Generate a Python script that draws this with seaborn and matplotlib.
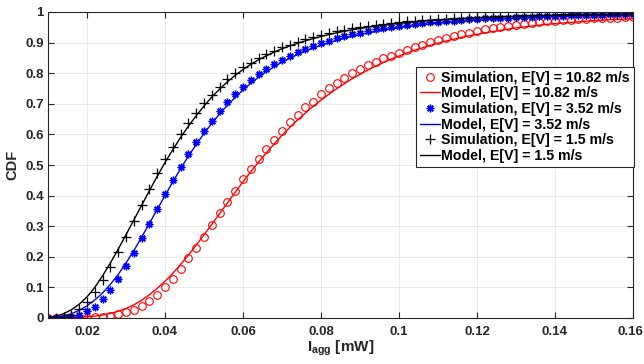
import numpy as np
import pandas as pd
import matplotlib
matplotlib.use("Agg")
import matplotlib.pyplot as plt
import matplotlib.transforms as mtransforms
import seaborn as sns

# ---------------- data ----------------
x_vals = [round(0.010 + 0.002 * i, 3) for i in range(76)]

sim_red = [0.000, 0.000, 0.000, 0.000, 0.000, 0.001, 0.002, 0.004, 0.007, 0.013,
           0.019, 0.026, 0.039, 0.057, 0.075, 0.100, 0.128, 0.161, 0.195, 0.230,
           0.266, 0.304, 0.342, 0.379, 0.416, 0.454, 0.487, 0.521, 0.553, 0.582,
           0.612, 0.639, 0.663, 0.688, 0.707, 0.731, 0.751, 0.769, 0.785, 0.801,
           0.814, 0.827, 0.838, 0.849, 0.857, 0.867, 0.876, 0.885, 0.892, 0.901,
           0.908, 0.915, 0.921, 0.927, 0.933, 0.938, 0.943, 0.947, 0.951, 0.955,
           0.958, 0.961, 0.964, 0.967, 0.969, 0.971, 0.973, 0.975, 0.977, 0.978,
           0.979, 0.980, 0.981, 0.982, 0.983, 0.984]
model_red = [0.000, 0.000, 0.001, 0.001, 0.002, 0.004, 0.006, 0.010, 0.015, 0.022,
             0.031, 0.043, 0.058, 0.076, 0.097, 0.120, 0.146, 0.175, 0.206, 0.238,
             0.272, 0.306, 0.341, 0.376, 0.411, 0.445, 0.478, 0.510, 0.540, 0.569,
             0.597, 0.623, 0.647, 0.670, 0.692, 0.712, 0.731, 0.749, 0.766, 0.782,
             0.796, 0.810, 0.823, 0.835, 0.846, 0.856, 0.866, 0.875, 0.883, 0.891,
             0.898, 0.905, 0.911, 0.917, 0.922, 0.927, 0.932, 0.936, 0.940, 0.944,
             0.948, 0.951, 0.954, 0.957, 0.960, 0.962, 0.964, 0.966, 0.968, 0.970,
             0.972, 0.973, 0.975, 0.976, 0.977, 0.978]

sim_blue = [0.000, 0.000, 0.001, 0.004, 0.010, 0.022, 0.037, 0.061, 0.092, 0.127,
            0.170, 0.213, 0.260, 0.307, 0.357, 0.405, 0.450, 0.495, 0.537, 0.575,
            0.611, 0.645, 0.677, 0.705, 0.731, 0.755, 0.777, 0.796, 0.813, 0.829,
            0.843, 0.856, 0.868, 0.879, 0.889, 0.898, 0.906, 0.914, 0.921, 0.927,
            0.933, 0.938, 0.943, 0.947, 0.951, 0.955, 0.958, 0.961, 0.964, 0.966,
            0.968, 0.970, 0.972, 0.974, 0.976, 0.977, 0.979, 0.980, 0.981, 0.982,
            0.983, 0.984, 0.985, 0.986, 0.987, 0.988, 0.988, 0.989, 0.990, 0.990,
            0.991, 0.991, 0.992, 0.992, 0.993, 0.993]
model_blue = [0.001, 0.003, 0.007, 0.014, 0.025, 0.040, 0.059, 0.082, 0.110, 0.142,
              0.180, 0.220, 0.264, 0.309, 0.355, 0.400, 0.445, 0.488, 0.529, 0.567,
              0.603, 0.636, 0.667, 0.695, 0.721, 0.745, 0.767, 0.787, 0.805, 0.821,
              0.836, 0.849, 0.861, 0.872, 0.882, 0.891, 0.899, 0.907, 0.914, 0.920,
              0.926, 0.931, 0.936, 0.941, 0.945, 0.949, 0.952, 0.955, 0.958, 0.961,
              0.963, 0.965, 0.967, 0.969, 0.971, 0.973, 0.974, 0.976, 0.977, 0.978,
              0.979, 0.980, 0.981, 0.982, 0.983, 0.984, 0.985, 0.986, 0.986, 0.987,
              0.988, 0.988, 0.989, 0.989, 0.990, 0.990]

sim_black = [0.000, 0.000, 0.002, 0.010, 0.028, 0.053, 0.084, 0.124, 0.168, 0.217,
             0.266, 0.318, 0.370, 0.423, 0.473, 0.518, 0.560, 0.600, 0.636, 0.671,
             0.702, 0.729, 0.756, 0.780, 0.802, 0.819, 0.834, 0.849, 0.862, 0.874,
             0.885, 0.893, 0.902, 0.911, 0.918, 0.925, 0.931, 0.937, 0.942, 0.947,
             0.951, 0.955, 0.958, 0.961, 0.964, 0.967, 0.969, 0.971, 0.973, 0.975,
             0.977, 0.978, 0.980, 0.981, 0.982, 0.983, 0.984, 0.985, 0.986, 0.987,
             0.988, 0.989, 0.989, 0.990, 0.991, 0.991, 0.992, 0.992, 0.993, 0.993,
             0.994, 0.994, 0.994, 0.995, 0.995, 0.995]
model_black = [0.002, 0.006, 0.014, 0.027, 0.045, 0.069, 0.100, 0.138, 0.180, 0.225,
               0.272, 0.320, 0.368, 0.416, 0.463, 0.508, 0.550, 0.590, 0.627, 0.661,
               0.693, 0.722, 0.748, 0.772, 0.793, 0.812, 0.829, 0.844, 0.857, 0.869,
               0.880, 0.889, 0.898, 0.906, 0.913, 0.920, 0.926, 0.932, 0.937, 0.942,
               0.946, 0.950, 0.954, 0.957, 0.960, 0.963, 0.965, 0.968, 0.970, 0.972,
               0.974, 0.975, 0.977, 0.978, 0.980, 0.981, 0.982, 0.983, 0.984, 0.985,
               0.986, 0.987, 0.987, 0.988, 0.989, 0.989, 0.990, 0.990, 0.991, 0.991,
               0.992, 0.992, 0.993, 0.993, 0.993, 0.994]

speeds = ["10.82", "3.52", "1.5"]
x_ticks = [0.02, 0.04, 0.06, 0.08, 0.10, 0.12, 0.14, 0.16]
x_tick_labels = ["0.02", "0.04", "0.06", "0.08", "0.1", "0.12", "0.14", "0.16"]
y_ticks = [0, 0.1, 0.2, 0.3, 0.4, 0.5, 0.6, 0.7, 0.8, 0.9, 1.0]
y_tick_labels = ["0", "0.1", "0.2", "0.3", "0.4", "0.5", "0.6", "0.7", "0.8", "0.9", "1"]

# ---------------- style ----------------
sns.set_style("ticks")
plt.rcParams["font.family"] = ["Liberation Sans", "DejaVu Sans"]
plt.rcParams["font.weight"] = "bold"
plt.rcParams["mathtext.fontset"] = "custom"
plt.rcParams["mathtext.rm"] = "Liberation Sans:bold"
plt.rcParams["mathtext.bf"] = "Liberation Sans:bold"
plt.rcParams["mathtext.it"] = "Liberation Sans:bold"

fig = plt.figure(figsize=(6.44, 3.64), dpi=100)
ax = fig.add_axes([48 / 644, 1 - 318 / 364, (633 - 48) / 644, (318 - 12) / 364])

series = [
    (sim_red, model_red, "#ff0000", dict(marker="o", markerfacecolor="none",
                                         markeredgecolor="#ff0000", markersize=5.5,
                                         markeredgewidth=0.8)),
    (sim_blue, model_blue, "#0000ff", dict(marker=(8, 2, 0), markerfacecolor="#0000ff",
                                           markeredgecolor="#0000ff", markersize=5.5,
                                           markeredgewidth=1.0)),
    (sim_black, model_black, "#000000", dict(marker="+", markerfacecolor="#000000",
                                             markeredgecolor="#000000", markersize=6.5,
                                             markeredgewidth=0.9)),
]

for (sim, model, col, mk), sp in zip(series, speeds):
    df_s = pd.DataFrame({"x": x_vals, "y": sim})
    df_m = pd.DataFrame({"x": x_vals, "y": model})
    sns.lineplot(data=df_s, x="x", y="y", ax=ax, linestyle="", color=col,
                 estimator=None, sort=False, label=f"Simulation, E[V] = {sp} m/s", **mk)
    sns.lineplot(data=df_m, x="x", y="y", ax=ax, color=col, linewidth=1.0,
                 estimator=None, sort=False, label=f"Model, E[V] = {sp} m/s")

ax.set_xlim(0.01, 0.16)
ax.set_ylim(0, 1)
ax.set_xticks(x_ticks)
ax.set_xticklabels(x_tick_labels)
ax.set_yticks(y_ticks)
ax.set_yticklabels(y_tick_labels)

tick_col = "#262626"
ax.grid(True, color="#e6e6e6", linewidth=0.6)
ax.set_axisbelow(True)
for s in ax.spines.values():
    s.set_visible(True)
    s.set_color(tick_col)
    s.set_linewidth(0.8)
ax.tick_params(direction="in", length=4, width=0.8, color=tick_col,
               labelcolor=tick_col, labelsize=9.5, top=True, right=True)
ax.tick_params(axis="x", pad=6)
ax.tick_params(axis="y", pad=3)
for lab in ax.get_xticklabels() + ax.get_yticklabels():
    lab.set_fontweight("bold")
last = ax.get_xticklabels()[-1]
last.set_transform(last.get_transform() +
                   mtransforms.ScaledTranslation(-3 / 100, 0, fig.dpi_scale_trans))

ax.set_xlabel(r"$\mathrm{I}_{\mathrm{agg}}$ [mW]", fontsize=11, fontweight="bold",
              color=tick_col, labelpad=0)
ax.set_ylabel("CDF", fontsize=10.5, fontweight="bold", color=tick_col, labelpad=4)

leg = ax.legend(loc="upper left", bbox_to_anchor=(0.629, 0.820), borderaxespad=0,
                numpoints=1, fancybox=False, framealpha=1, edgecolor="#262626",
                handlelength=1.45, handletextpad=0.1, borderpad=0.25,
                labelspacing=0.12, prop={"weight": "bold", "size": 10.2})
leg.get_frame().set_linewidth(0.8)
for t in leg.get_texts():
    t.set_color("#000000")

fig.savefig("out.png", dpi=100)
